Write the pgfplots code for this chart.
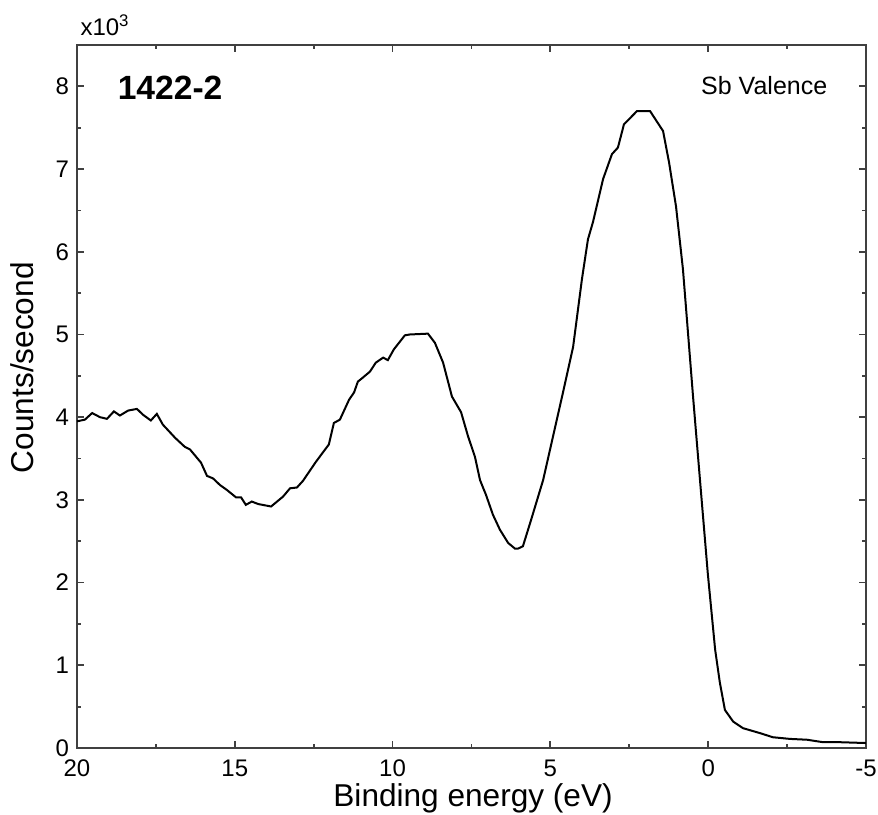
\documentclass[border=0pt]{standalone}
\usepackage{fontspec}
\setmainfont{Liberation Sans}
\usepackage{pgfplots}
\pgfplotsset{compat=1.18}
\begin{document}
\begin{tikzpicture}
\begin{axis}[
  at={(0,0)}, anchor=south west,
  scale only axis,
  width=394.5bp, height=351.5bp,
  x dir=reverse,
  xmin=-5, xmax=20, ymin=0, ymax=8.5,
  xtick={-5,0,5,10,15,20},
  ytick={0,1,2,3,4,5,6,7,8},
  minor x tick num=1, minor y tick num=1,
  tick align=inside,
  major tick length=3.5bp, minor tick length=2bp,
  axis line style={black!75, line width=0.9bp},
  every tick/.style={black!75, line width=0.9bp},
  tick label style={font=\fontsize{12bp}{14bp}\selectfont},
  /pgf/number format/assume math mode=true,
  xticklabel style={yshift=-2.5bp},
  yticklabel style={xshift=-0.5bp},
  xlabel={Binding energy (eV)},
  ylabel={Counts/second},
  label style={font=\fontsize{15.8bp}{18bp}\selectfont},
  xlabel style={at={(axis description cs:0.502,-0.071)}, anchor=center},
  ylabel style={at={(axis description cs:-0.07,0.541)}, anchor=center},
  clip mode=individual,
]
\addplot[black, line width=1bp] coordinates {
(20.00,3.95) (19.75,3.97) (19.52,4.05) (19.27,4.00) (19.05,3.98) (18.83,4.07)
(18.64,4.02) (18.38,4.08) (18.10,4.10) (17.91,4.03) (17.66,3.96) (17.47,4.04)
(17.28,3.91) (16.89,3.75) (16.58,3.64) (16.42,3.61) (16.07,3.45) (15.88,3.29)
(15.69,3.26) (15.47,3.18) (15.25,3.12) (14.96,3.03) (14.80,3.03) (14.65,2.94)
(14.46,2.98) (14.26,2.95) (13.85,2.92) (13.66,2.98) (13.47,3.04) (13.25,3.14)
(13.03,3.15) (12.84,3.23) (12.43,3.46) (12.02,3.67) (11.86,3.93) (11.67,3.97)
(11.38,4.21) (11.22,4.30) (11.10,4.43) (10.97,4.47) (10.72,4.55) (10.53,4.66)
(10.30,4.72) (10.15,4.69) (9.96,4.82) (9.61,4.99) (9.45,5.00) (8.88,5.01)
(8.66,4.90) (8.40,4.66) (8.12,4.25) (7.83,4.06) (7.61,3.77) (7.39,3.52)
(7.23,3.24) (7.04,3.06) (6.82,2.82) (6.60,2.64) (6.34,2.48) (6.12,2.41)
(6.03,2.41) (5.87,2.44) (5.61,2.76) (5.42,3.00) (5.23,3.24) (4.60,4.30)
(4.28,4.85) (4.00,5.67) (3.81,6.15) (3.65,6.36) (3.33,6.88) (3.05,7.18)
(2.86,7.26) (2.67,7.54) (2.26,7.70) (1.84,7.70) (1.43,7.46) (1.24,7.08)
(1.02,6.55) (0.80,5.79) (0.64,5.02) (0.48,4.25) (0.26,3.24) (0.01,2.10)
(-0.22,1.19) (-0.37,0.79) (-0.53,0.46) (-0.79,0.32) (-1.10,0.24) (-1.64,0.18)
(-2.05,0.13) (-2.59,0.11) (-3.13,0.10) (-3.64,0.07) (-4.18,0.07) (-5.00,0.06)
};
\node[font=\fontsize{16.8bp}{19bp}\selectfont\bfseries, anchor=center] at (rel axis cs:0.118,0.939) {1422-2};
\node[font=\fontsize{12.5bp}{14bp}\selectfont, anchor=center] at (rel axis cs:0.871,0.942) {Sb Valence};
\node[font=\fontsize{12bp}{14bp}\selectfont, anchor=base west, inner sep=0pt] at ([yshift=5bp]rel axis cs:0.004,1) {x10\textsuperscript{3}};
\end{axis}
\pgfresetboundingbox
\path (-38.5bp,-33.5bp) rectangle (400.5bp,374bp);
\end{tikzpicture}
\end{document}
